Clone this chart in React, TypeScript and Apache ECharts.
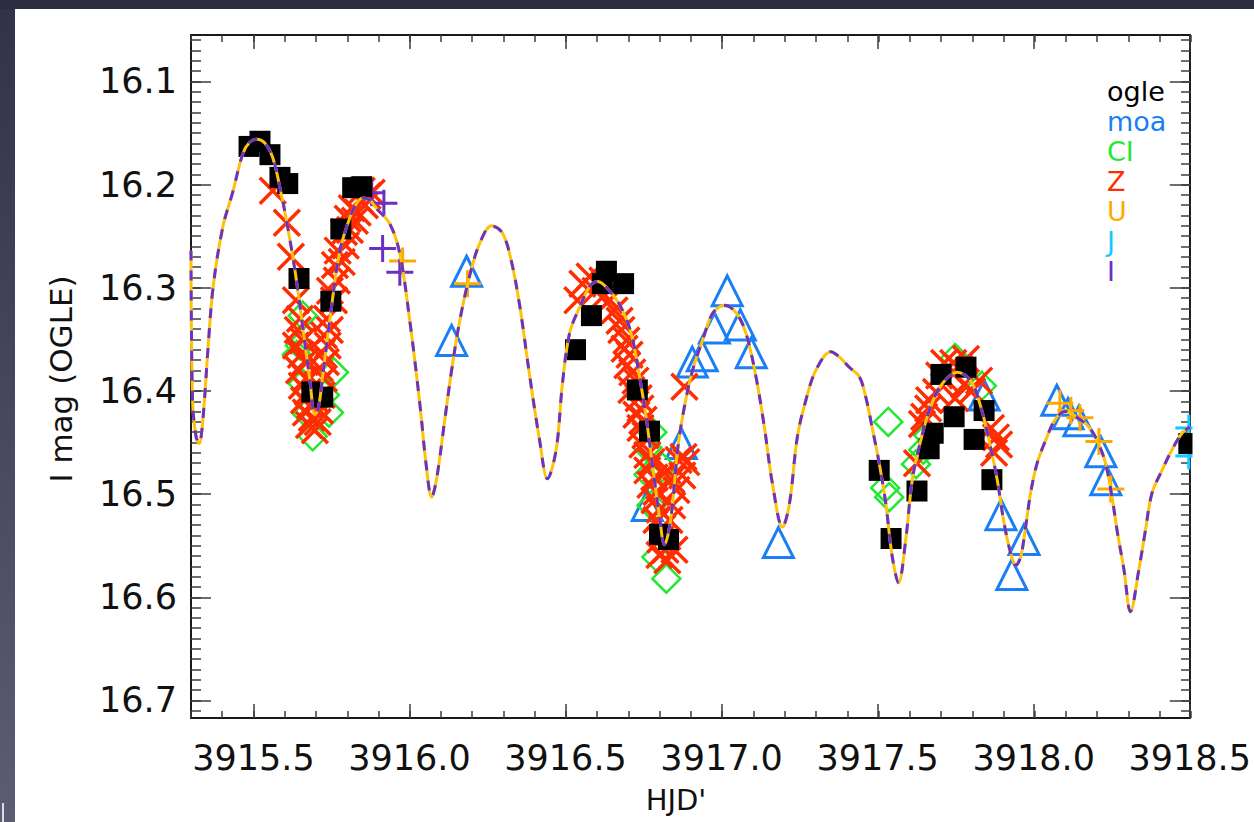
import React, { useEffect, useRef } from 'react';
import * as echarts from 'echarts';

const FONT = 'DejaVu Sans';

// Axis ranges and tick labels
const X_MIN = 3915.3;
const X_MAX = 3918.5;
const Y_MIN = 16.055;
const Y_MAX = 16.717;
const xMajor = [3915.5, 3916.0, 3916.5, 3917.0, 3917.5, 3918.0, 3918.5];
const yMajor = [16.1, 16.2, 16.3, 16.4, 16.5, 16.6, 16.7];
const xTitle = "HJD'";
const yTitle = 'I mag (OGLE)';

// Data (HJD', I mag)
const ogle: [number, number][] = [
  [3915.486, 16.163], [3915.521, 16.158], [3915.553, 16.171], [3915.585, 16.193], [3915.610, 16.199],
  [3915.646, 16.291], [3915.687, 16.401], [3915.722, 16.406], [3915.748, 16.313], [3915.780, 16.243],
  [3915.818, 16.203], [3915.847, 16.202],
  [3916.532, 16.360], [3916.583, 16.327], [3916.631, 16.284], [3916.618, 16.296], [3916.686, 16.296],
  [3916.730, 16.399], [3916.769, 16.439], [3916.801, 16.539], [3916.830, 16.544],
  [3917.505, 16.477], [3917.543, 16.543], [3917.626, 16.497], [3917.665, 16.456], [3917.678, 16.441],
  [3917.703, 16.384], [3917.745, 16.425], [3917.783, 16.377], [3917.809, 16.447], [3917.841, 16.419],
  [3917.866, 16.486], [3918.497, 16.451],
];

const moa: [number, number][] = [
  [3916.135, 16.351], [3916.183, 16.284], [3917.018, 16.303], [3916.977, 16.339], [3917.060, 16.336],
  [3916.906, 16.372], [3916.938, 16.366], [3917.095, 16.363], [3916.871, 16.451], [3916.762, 16.511],
  [3917.182, 16.547], [3917.895, 16.520], [3917.969, 16.544], [3917.930, 16.578], [3918.074, 16.409],
  [3918.110, 16.422], [3918.145, 16.429], [3918.215, 16.459], [3918.231, 16.486], [3917.841, 16.404],
];

const ci: [number, number][] = [
  [3915.658, 16.327], [3915.649, 16.356], [3915.639, 16.365], [3915.658, 16.393], [3915.671, 16.422],
  [3915.690, 16.444], [3915.758, 16.382], [3915.742, 16.421], [3915.729, 16.404],
  [3916.778, 16.440], [3916.762, 16.455], [3916.766, 16.481], [3916.775, 16.511], [3916.791, 16.561],
  [3916.823, 16.582], [3916.810, 16.474],
  [3917.534, 16.430], [3917.524, 16.494], [3917.537, 16.503], [3917.623, 16.471], [3917.646, 16.457],
  [3917.662, 16.443], [3917.748, 16.368], [3917.834, 16.395],
];

const zData: [number, number][] = [
  [3915.562, 16.206], [3915.607, 16.237], [3915.620, 16.270], [3915.636, 16.312], [3915.649, 16.330],
  [3915.642, 16.341], [3915.658, 16.351], [3915.636, 16.356], [3915.652, 16.365], [3915.665, 16.372],
  [3915.646, 16.380], [3915.668, 16.388], [3915.655, 16.395], [3915.674, 16.401], [3915.662, 16.409],
  [3915.681, 16.414], [3915.668, 16.421], [3915.687, 16.426], [3915.678, 16.433], [3915.697, 16.438],
  [3915.706, 16.430], [3915.713, 16.419], [3915.700, 16.409], [3915.719, 16.404], [3915.706, 16.394],
  [3915.726, 16.388], [3915.713, 16.378], [3915.732, 16.372], [3915.719, 16.363], [3915.738, 16.356],
  [3915.726, 16.346], [3915.745, 16.341], [3915.735, 16.330], [3915.758, 16.312], [3915.745, 16.303],
  [3915.767, 16.293], [3915.761, 16.278], [3915.783, 16.275], [3915.770, 16.264], [3915.796, 16.259],
  [3915.790, 16.246], [3915.809, 16.244], [3915.802, 16.233], [3915.825, 16.235], [3915.815, 16.223],
  [3915.834, 16.227], [3915.841, 16.215], [3915.857, 16.220], [3915.866, 16.211], [3915.879, 16.208],
  [3915.847, 16.206],
  [3916.538, 16.312], [3916.554, 16.296], [3916.577, 16.289], [3916.596, 16.303], [3916.618, 16.293],
  [3916.625, 16.307], [3916.641, 16.312], [3916.657, 16.322], [3916.673, 16.332], [3916.679, 16.341],
  [3916.695, 16.351], [3916.689, 16.359], [3916.705, 16.365], [3916.698, 16.375], [3916.714, 16.382],
  [3916.724, 16.390], [3916.711, 16.399], [3916.734, 16.407], [3916.740, 16.417], [3916.727, 16.423],
  [3916.750, 16.428], [3916.740, 16.436], [3916.756, 16.443], [3916.746, 16.452], [3916.762, 16.462],
  [3916.775, 16.469], [3916.762, 16.477], [3916.785, 16.484], [3916.772, 16.491], [3916.791, 16.498],
  [3916.785, 16.506], [3916.801, 16.515], [3916.791, 16.525], [3916.810, 16.533], [3916.804, 16.544],
  [3916.820, 16.554], [3916.801, 16.559], [3916.826, 16.564], [3916.849, 16.554], [3916.833, 16.525],
  [3916.842, 16.511], [3916.855, 16.496], [3916.874, 16.482], [3916.862, 16.467], [3916.887, 16.469],
  [3916.839, 16.486], [3916.826, 16.477], [3916.881, 16.396], [3916.878, 16.464],
  [3917.626, 16.470], [3917.642, 16.432], [3917.649, 16.425], [3917.662, 16.417], [3917.665, 16.409],
  [3917.687, 16.401], [3917.697, 16.385], [3917.713, 16.373], [3917.742, 16.373], [3917.761, 16.378],
  [3917.783, 16.369], [3917.777, 16.394], [3917.748, 16.407], [3917.802, 16.400], [3917.825, 16.390],
  [3917.863, 16.436], [3917.879, 16.445], [3917.873, 16.460], [3917.889, 16.452], [3917.722, 16.390],
];

const uData: [number, number][] = [
  [3915.978, 16.274], [3916.186, 16.296], [3918.084, 16.412], [3918.119, 16.419], [3918.148, 16.426],
  [3918.209, 16.449], [3918.247, 16.495],
];

const jData: [number, number][] = [
  [3918.497, 16.436], [3918.497, 16.463],
];

const iData: [number, number][] = [
  [3915.879, 16.208], [3915.918, 16.218], [3915.914, 16.262], [3915.969, 16.285],
];

// Model light curve
const modelCurve: [number, number][] = [
  [3915.300, 16.264], [3915.305, 16.409], [3915.316, 16.444], [3915.326, 16.451], [3915.338, 16.428],
  [3915.354, 16.361], [3915.371, 16.299], [3915.402, 16.241], [3915.434, 16.207], [3915.466, 16.170],
  [3915.488, 16.159], [3915.511, 16.156], [3915.537, 16.160], [3915.562, 16.174], [3915.585, 16.203],
  [3915.606, 16.235], [3915.633, 16.283], [3915.658, 16.338], [3915.681, 16.390], [3915.697, 16.423],
  [3915.708, 16.417], [3915.723, 16.383], [3915.750, 16.319], [3915.777, 16.264], [3915.809, 16.232],
  [3915.831, 16.218], [3915.851, 16.213], [3915.873, 16.215], [3915.894, 16.223], [3915.937, 16.238],
  [3915.969, 16.267], [3916.001, 16.332], [3916.033, 16.412], [3916.054, 16.473], [3916.071, 16.503],
  [3916.087, 16.485], [3916.113, 16.428], [3916.135, 16.380], [3916.161, 16.332], [3916.193, 16.288],
  [3916.225, 16.257], [3916.263, 16.240], [3916.298, 16.247], [3916.327, 16.275], [3916.353, 16.317],
  [3916.385, 16.385], [3916.417, 16.448], [3916.442, 16.485], [3916.470, 16.457], [3916.490, 16.393],
  [3916.513, 16.344], [3916.545, 16.319], [3916.577, 16.299], [3916.603, 16.294], [3916.641, 16.303],
  [3916.678, 16.319], [3916.710, 16.344], [3916.737, 16.386], [3916.758, 16.425], [3916.779, 16.473],
  [3916.801, 16.522], [3916.817, 16.549], [3916.838, 16.522], [3916.859, 16.457], [3916.881, 16.415],
  [3916.907, 16.380], [3916.939, 16.351], [3916.971, 16.325], [3917.009, 16.317], [3917.046, 16.324],
  [3917.078, 16.344], [3917.110, 16.386], [3917.137, 16.435], [3917.163, 16.490], [3917.195, 16.532],
  [3917.217, 16.510], [3917.243, 16.444], [3917.270, 16.409], [3917.302, 16.380], [3917.350, 16.362],
  [3917.377, 16.367], [3917.409, 16.377], [3917.441, 16.386], [3917.462, 16.406], [3917.484, 16.438],
  [3917.505, 16.470], [3917.526, 16.509], [3917.547, 16.561], [3917.567, 16.586], [3917.590, 16.544],
  [3917.611, 16.486], [3917.638, 16.448], [3917.670, 16.415], [3917.707, 16.393], [3917.755, 16.382],
  [3917.798, 16.390], [3917.830, 16.415], [3917.857, 16.448], [3917.883, 16.486], [3917.905, 16.528],
  [3917.926, 16.557], [3917.942, 16.569], [3917.958, 16.561], [3917.974, 16.532], [3917.990, 16.499],
  [3918.011, 16.470], [3918.038, 16.448], [3918.070, 16.427], [3918.102, 16.420], [3918.145, 16.427],
  [3918.177, 16.435], [3918.203, 16.448], [3918.230, 16.470], [3918.251, 16.503], [3918.267, 16.535],
  [3918.289, 16.573], [3918.310, 16.614], [3918.337, 16.573], [3918.358, 16.535], [3918.379, 16.499],
  [3918.411, 16.477], [3918.443, 16.457], [3918.475, 16.441], [3918.500, 16.435],
];

const legendNames = ['ogle', 'moa', 'CI', 'Z', 'U', 'J', 'I'];
const COLORS: Record<string, string> = {
  ogle: '#000000',
  moa: '#1a7ff5',
  CI: '#22e832',
  Z: '#ff2d00',
  U: '#ffa800',
  J: '#14c8ff',
  I: '#6a30c4',
};
const CURVE_ORANGE = '#ffc20a';
const CURVE_PURPLE = '#6a33c2';

function range(a: number, b: number, step: number): number[] {
  const out: number[] = [];
  const n = Math.round((b - a) / step);
  for (let i = 0; i <= n; i++) out.push(Math.round((a + i * step) * 1000) / 1000);
  return out;
}
const xMinor = range(3915.3, 3918.5, 0.1);
const yMinor = range(16.06, 16.71, 0.01);

const X_PATH = 'path://M0,0L20,20M20,0L0,20';
const PLUS_PATH = 'path://M10,0L10,20M0,10L20,10';

function buildOption(): any {
  const lineCol = '#1a1a1a';
  const tickCol = '#3c3c3c';
  const grid = { left: 191, top: 35, width: 1000, height: 683 };
  const mkX = (gridIndex: number, position: string, len: number, values: number[], labels: boolean) => ({
    type: 'value',
    gridIndex,
    position,
    min: X_MIN,
    max: X_MAX,
    axisLine: { show: gridIndex === 0, lineStyle: { color: lineCol, width: 2 } },
    axisTick: { show: true, inside: true, length: len, customValues: values, lineStyle: { color: tickCol, width: 1.5 } },
    axisLabel: labels
      ? { show: true, customValues: xMajor, formatter: (v: number) => v.toFixed(1), fontFamily: FONT, fontSize: 35, color: '#111', margin: 22 }
      : { show: false },
    splitLine: { show: false },
  });
  const mkY = (gridIndex: number, position: string, len: number, values: number[], labels: boolean) => ({
    type: 'value',
    gridIndex,
    position,
    inverse: true,
    min: Y_MIN,
    max: Y_MAX,
    axisLine: { show: gridIndex === 0, lineStyle: { color: lineCol, width: 2 } },
    axisTick: { show: true, inside: true, length: len, customValues: values, lineStyle: { color: tickCol, width: 1.5 } },
    axisLabel: labels
      ? { show: true, customValues: yMajor, formatter: (v: number) => v.toFixed(1), fontFamily: FONT, fontSize: 35, color: '#111', margin: 14 }
      : { show: false },
    splitLine: { show: false },
  });

  const scatterBase = (name: string, data: [number, number][], symbol: string, size: number, filled: boolean, bw: number) => ({
    type: 'scatter',
    name,
    xAxisIndex: 0,
    yAxisIndex: 0,
    data,
    symbol,
    symbolSize: size,
    itemStyle: filled
      ? { color: COLORS[name], opacity: 1 }
      : { color: 'rgba(0,0,0,0)', borderColor: COLORS[name], borderWidth: bw, opacity: 1 },
    emphasis: { disabled: true },
  });

  return {
    animation: false,
    backgroundColor: '#2b2c40',
    textStyle: { fontFamily: FONT },
    grid: [grid, { ...grid }],
    xAxis: [
      mkX(0, 'bottom', 14, xMajor, true),
      mkX(0, 'top', 14, xMajor, false),
      mkX(1, 'bottom', 7, xMinor, false),
      mkX(1, 'top', 7, xMinor, false),
    ],
    yAxis: [
      mkY(0, 'left', 20, yMajor, true),
      mkY(0, 'right', 20, yMajor, false),
      mkY(1, 'left', 10, yMinor, false),
      mkY(1, 'right', 10, yMinor, false),
    ],
    legend: {
      orient: 'vertical',
      left: 1097,
      top: 71,
      itemWidth: 0,
      itemHeight: 0,
      itemGap: 0,
      icon: 'none',
      selectedMode: false,
      textStyle: { fontFamily: FONT, fontSize: 27, lineHeight: 30 },
      data: legendNames.map((n) => ({ name: n, icon: 'none', textStyle: { color: COLORS[n], fontFamily: FONT, fontSize: 27, lineHeight: 30 } })),
    },
    graphic: [
      { type: 'rect', shape: { x: 0, y: 9, width: 15, height: 813 }, z: -20,
        style: { fill: new echarts.graphic.LinearGradient(0, 0, 0, 1, [{ offset: 0, color: '#323348' }, { offset: 1, color: '#5c5c72' }]) } },
      { type: 'rect', shape: { x: 15, y: 9, width: 1239, height: 813 }, z: -20, style: { fill: '#ffffff' } },
      { type: 'rect', shape: { x: 2, y: 803, width: 2, height: 19 }, z: -19, style: { fill: '#dcdce4' } },
      { type: 'rect', shape: { x: 1192.5, y: 20, width: 62, height: 702 }, z: 100, style: { fill: '#ffffff' } },
      { type: 'text', x: 61, y: 379, rotation: Math.PI / 2, z: 100,
        style: { text: yTitle, fontFamily: FONT, fontSize: 31, fill: '#111', align: 'center', verticalAlign: 'middle' } },
      { type: 'text', x: 676, y: 800, z: 100,
        style: { text: xTitle, fontFamily: FONT, fontSize: 29, fill: '#111', align: 'center', verticalAlign: 'middle' } },
    ],
    series: [
      scatterBase('moa', moa, 'triangle', 30, false, 3),
      scatterBase('CI', ci, 'diamond', 28, false, 2.5),
      scatterBase('Z', zData, X_PATH, 26, false, 3.5),
      scatterBase('U', uData, PLUS_PATH, 27, false, 3),
      scatterBase('I', iData, PLUS_PATH, 27, false, 3),
      scatterBase('J', jData, PLUS_PATH, 27, false, 3),
      scatterBase('ogle', ogle, 'rect', 21, true, 0),
      {
        type: 'line', name: 'model U', xAxisIndex: 0, yAxisIndex: 0, data: modelCurve, showSymbol: false, smooth: 0.35,
        lineStyle: { color: CURVE_ORANGE, width: 3 }, emphasis: { disabled: true }, z: 5,
      },
      {
        type: 'line', name: 'model I', xAxisIndex: 0, yAxisIndex: 0, data: modelCurve, showSymbol: false, smooth: 0.35,
        lineStyle: { color: CURVE_PURPLE, width: 3, type: [10, 10] }, emphasis: { disabled: true }, z: 6,
      },
    ],
  };
}

export default function App() {
  const ref = useRef<HTMLDivElement>(null);
  useEffect(() => {
    if (!ref.current) return;
    const chart = echarts.init(ref.current, null, { renderer: 'svg' });
    chart.setOption(buildOption());
    return () => chart.dispose();
  }, []);
  return (
    <div
      ref={ref}
      style={{ position: 'fixed', left: 0, top: 0, width: 1254, height: 822 }}
    />
  );
}
